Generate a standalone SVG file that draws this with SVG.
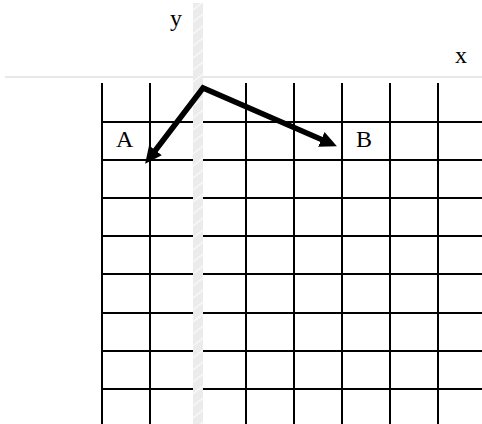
<svg xmlns="http://www.w3.org/2000/svg" width="482" height="424" viewBox="0 0 482 424">
  <style>
    .grid line { stroke: #000; stroke-width: 2; }
    .lbl { font-family: "Liberation Serif", "Times New Roman", serif; font-size: 24px; fill: #000; }
    .arrow { fill: none; stroke: #000; stroke-width: 5.5; stroke-linejoin: miter; }
  </style>
  <defs>
    <pattern id="hatch" patternUnits="userSpaceOnUse" width="10" height="12" patternTransform="translate(193,0)">
      <rect width="10" height="12" fill="#ebebeb"/>
      <path d="M0,10 L10,2" stroke="#f8f8f8" stroke-width="1.5"/>
    </pattern>
    <marker id="head" markerUnits="userSpaceOnUse" markerWidth="17" markerHeight="16" refX="4" refY="8" orient="auto-start-reverse">
      <path d="M0,0 L17,8 L0,16 z" fill="#000"/>
    </marker>
  </defs>

  <g id="grid" class="grid">
    <line x1="102" y1="83" x2="102" y2="424"/>
    <line x1="150" y1="83" x2="150" y2="424"/>
    <line x1="246" y1="83" x2="246" y2="424"/>
    <line x1="294" y1="83" x2="294" y2="424"/>
    <line x1="342" y1="83" x2="342" y2="424"/>
    <line x1="390" y1="83" x2="390" y2="424"/>
    <line x1="438" y1="83" x2="438" y2="424"/>
    <line x1="101" y1="122" x2="482" y2="122"/>
    <line x1="101" y1="160" x2="482" y2="160"/>
    <line x1="101" y1="198" x2="482" y2="198"/>
    <line x1="101" y1="236" x2="482" y2="236"/>
    <line x1="101" y1="274" x2="482" y2="274"/>
    <line x1="101" y1="313" x2="482" y2="313"/>
    <line x1="101" y1="351" x2="482" y2="351"/>
    <line x1="101" y1="389" x2="482" y2="389"/>
  </g>

  <g id="x-axis">
    <line x1="5" y1="77" x2="482" y2="77" stroke="#e8e8e8" stroke-width="2"/>
  </g>
  <g id="y-axis">
    <rect x="193" y="3" width="10" height="421" fill="url(#hatch)"/>
  </g>

  <g id="connectors">
    <path class="arrow" d="M153,153.5 L203,88 L325,141" marker-start="url(#head)" marker-end="url(#head)"/>
  </g>

  <g id="label-y"><text class="lbl" x="170" y="26">y</text></g>
  <g id="label-x"><text class="lbl" x="455" y="63">x</text></g>
  <g id="label-A"><text class="lbl" x="116" y="147">A</text></g>
  <g id="label-B"><text class="lbl" x="356" y="147">B</text></g>
</svg>
